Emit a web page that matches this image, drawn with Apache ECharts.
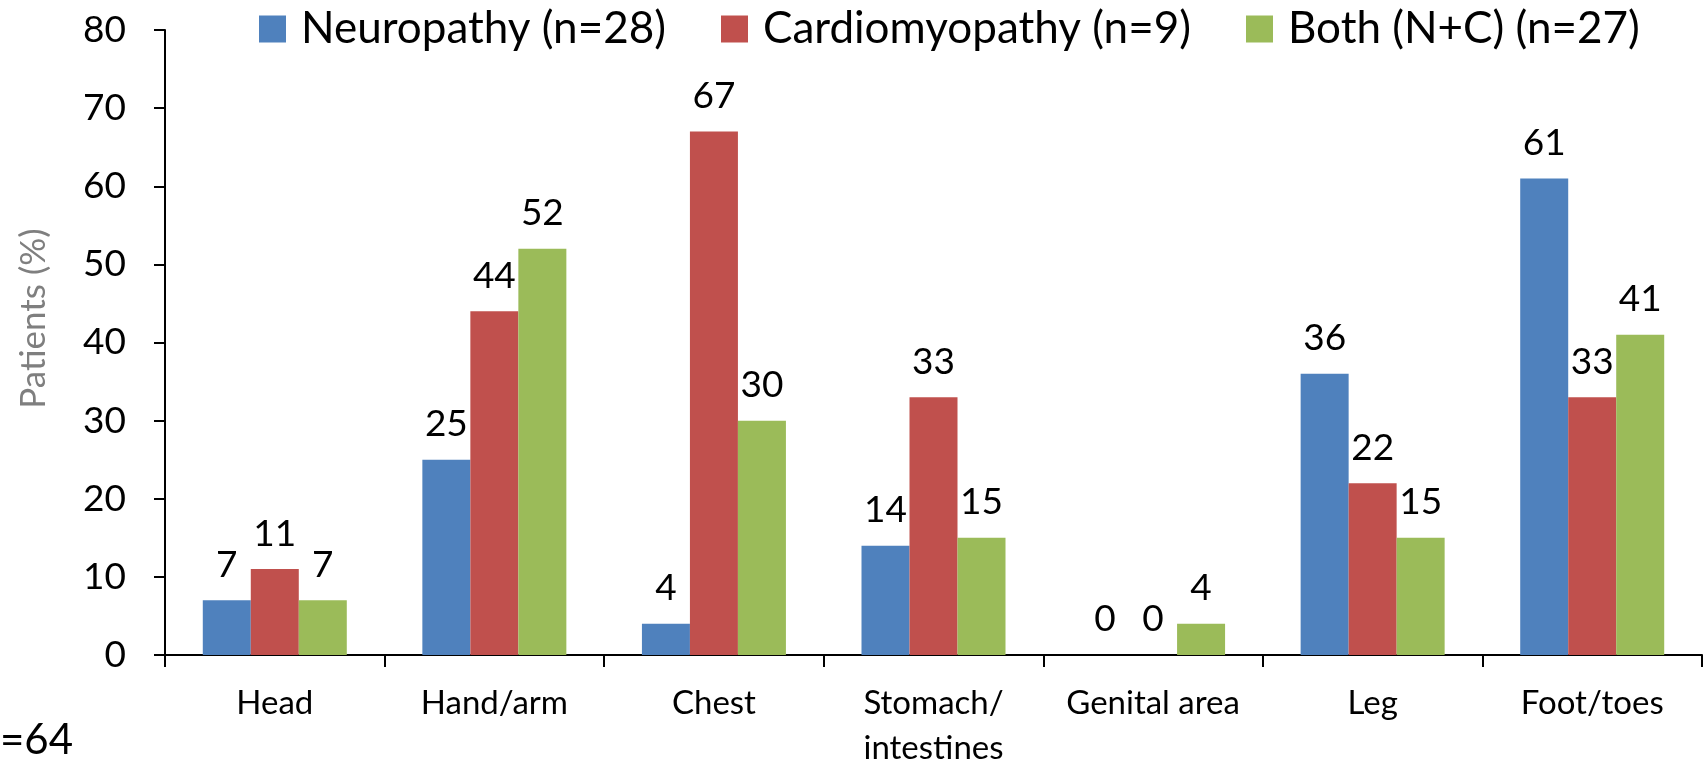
<!DOCTYPE html>
<html>
<head>
<meta charset="utf-8">
<script src="https://cdn.jsdelivr.net/npm/echarts@6/dist/echarts.min.js"></script>
<style>
  html, body { margin: 0; padding: 0; background: #fff; }
  #chart { width: 1704px; height: 763px; }
</style>
</head>
<body>
<div id="chart"></div>
<script>
// body region categories
const categories = ['Head', 'Hand/arm', 'Chest', 'Stomach/\nintestines', 'Genital area', 'Leg', 'Foot/toes'];

// % of patients per group
const neuropathy = [7, 25, 4, 14, 0, 36, 61];
const cardiomyopathy = [11, 44, 67, 33, 0, 22, 33];
const both = [7, 52, 30, 15, 4, 15, 41];

const seriesNames = ['Neuropathy (n=28)', 'Cardiomyopathy (n=9)', 'Both (N+C) (n=27)'];
const colors = ['#4F81BD', '#C0504D', '#9BBB59'];

const FONT = 'Lato, "Open Sans", sans-serif';

function makeBar(name, data, color) {
  return {
    name: name,
    type: 'bar',
    data: data,
    barWidth: 48,
    barGap: '0%',
    itemStyle: { color: color },
    label: {
      show: true,
      position: 'top',
      distance: 17,
      color: '#000',
      fontFamily: FONT,
      fontSize: 37
    }
  };
}

// one legend per entry so each sits where it does in the original
function makeLegend(name, left) {
  return {
    top: 2,
    left: left,
    itemWidth: 27,
    itemHeight: 27,
    icon: 'rect',
    textStyle: { fontSize: 44, color: '#000', fontFamily: FONT, padding: [0, 0, 0, 10] },
    data: [name]
  };
}

const chart = echarts.init(document.getElementById('chart'));
chart.setOption({
  animation: false,
  backgroundColor: '#fff',
  color: colors,
  textStyle: { fontFamily: FONT },
  legend: [
    makeLegend(seriesNames[0], 254),
    makeLegend(seriesNames[1], 716),
    makeLegend(seriesNames[2], 1241)
  ],
  grid: {
    left: 165,
    right: 2,
    top: 30,
    bottom: 108,
    outerBoundsMode: 'none',
    containLabel: false
  },
  xAxis: {
    type: 'category',
    data: categories,
    axisLine: { lineStyle: { color: '#000', width: 2 } },
    axisTick: { show: true, length: 12, lineStyle: { color: '#000', width: 2 } },
    axisLabel: {
      color: '#000',
      fontFamily: FONT,
      fontSize: 33,
      margin: 26,
      lineHeight: 45,
      interval: 0
    }
  },
  yAxis: {
    type: 'value',
    min: 0,
    max: 80,
    interval: 10,
    name: 'Patients (%)',
    nameLocation: 'middle',
    nameGap: 114,
    nameTextStyle: { color: '#7f7f7f', fontSize: 35, fontFamily: FONT, padding: [0, 0, 0, 48] },
    splitLine: { show: false },
    axisLine: { show: true, lineStyle: { color: '#000', width: 2 } },
    axisTick: { show: true, length: 11, lineStyle: { color: '#000', width: 2 } },
    axisLabel: { color: '#000', fontFamily: FONT, fontSize: 37, margin: 39 }
  },
  graphic: [{
    type: 'text',
    left: 0,
    top: 719,
    style: { text: '=64', fontFamily: FONT, fontSize: 42, fill: '#000' }
  }],
  series: [
    makeBar(seriesNames[0], neuropathy, colors[0]),
    makeBar(seriesNames[1], cardiomyopathy, colors[1]),
    makeBar(seriesNames[2], both, colors[2])
  ]
});
</script>
</body>
</html>
